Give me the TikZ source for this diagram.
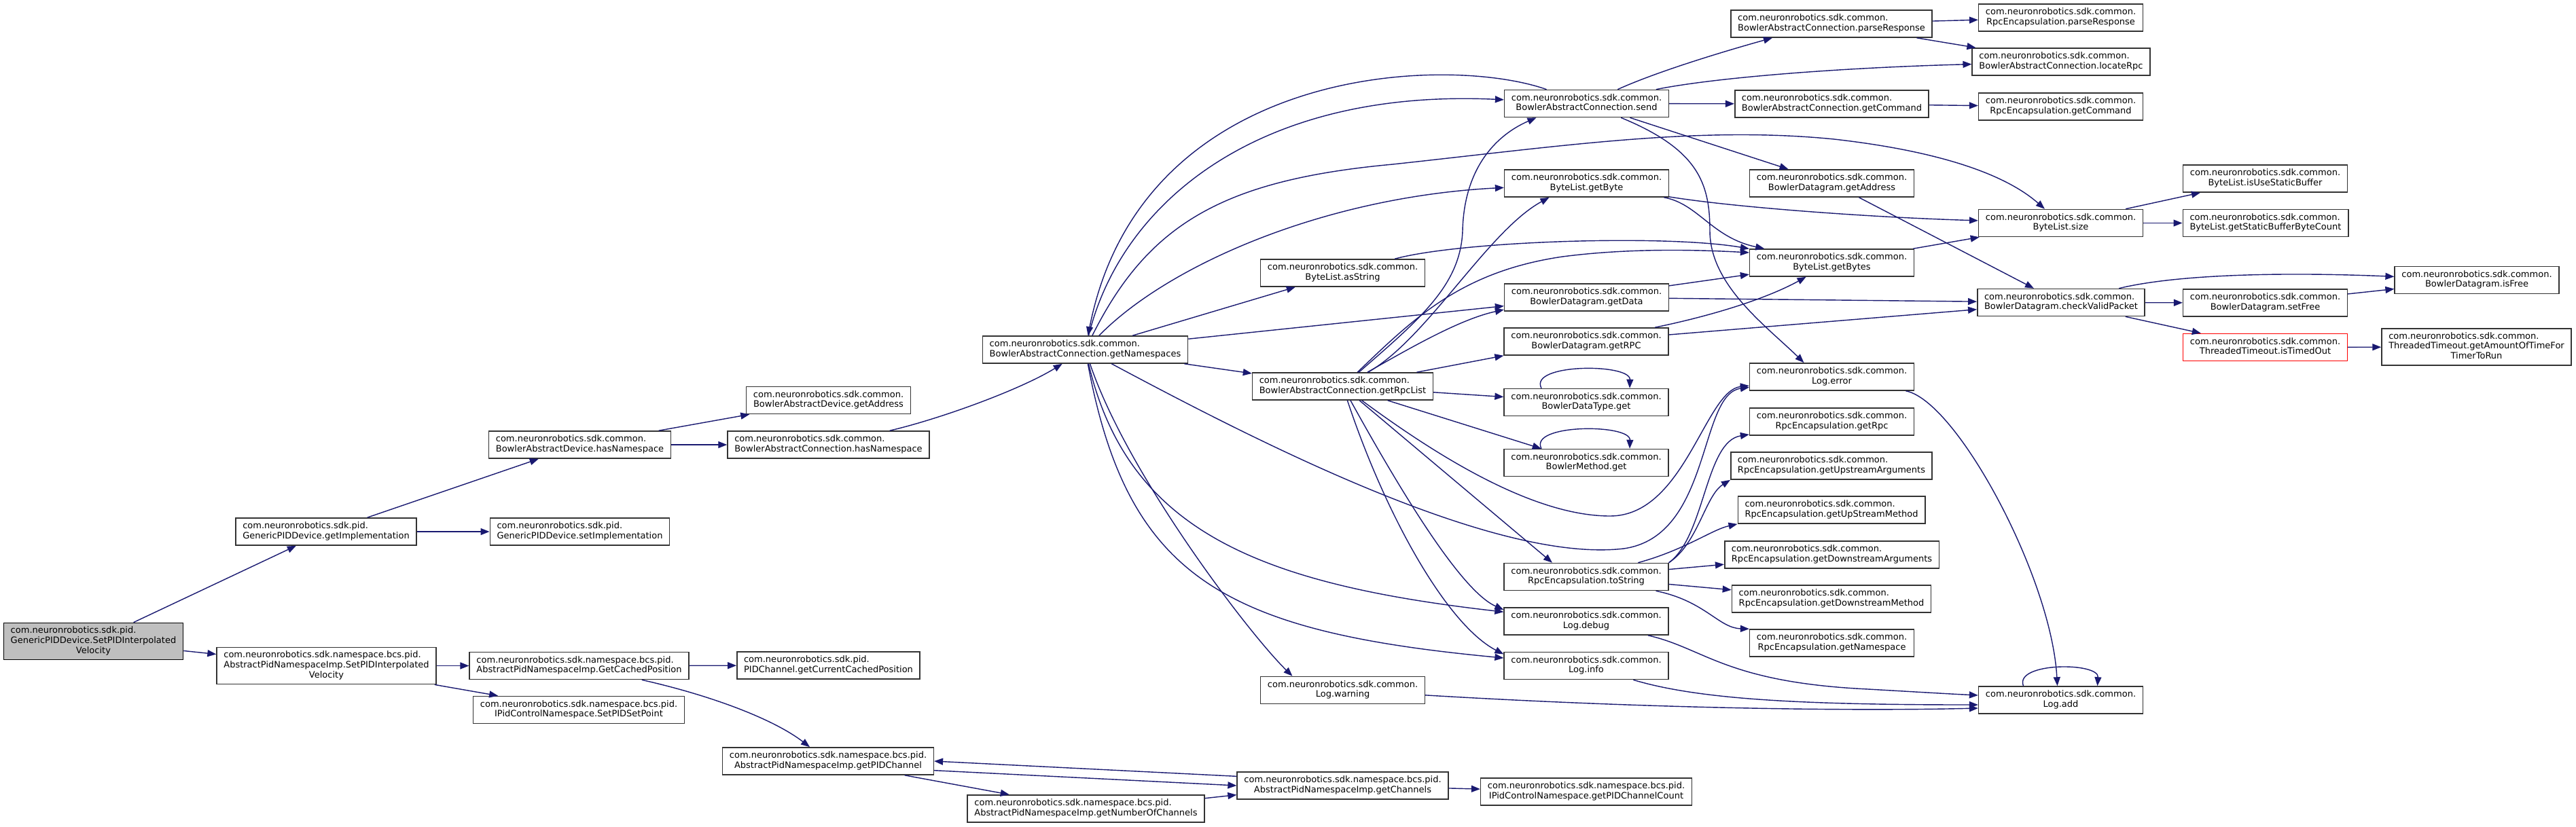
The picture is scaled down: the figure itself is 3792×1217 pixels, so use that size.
\documentclass[tikz,border=0pt]{standalone}
\usepackage{fontspec}
\newfontfamily\dxfont{DejaVu Sans}
\usepackage{tikz}
\usetikzlibrary{arrows.meta}
\definecolor{dxedge}{HTML}{191970}
\definecolor{dxgray}{HTML}{BFBFBF}
\newcommand{\fnlabel}[2]{\begin{tabular}{@{}l@{}}#1\\\multicolumn{1}{@{}c@{}}{#2}\end{tabular}}
\newcommand{\nrc}[1]{\fnlabel{com.neuronrobotics.sdk.common.}{#1}}
\newcommand{\nrp}[1]{\fnlabel{com.neuronrobotics.sdk.pid.}{#1}}
\newcommand{\nrb}[1]{\fnlabel{com.neuronrobotics.sdk.namespace.bcs.pid.}{#1}}

\begin{document}
\begin{tikzpicture}[x=0.01cm,y=-0.01cm,>={Triangle[length=0.13cm,width=0.1cm]}, every node/.style={font=\dxfont\fontsize{3.7}{4.2}\selectfont}]
\tikzstyle{fnbox}=[draw=black!80,line width=0.45pt,fill=white,inner xsep=2.9pt,inner ysep=1.4pt,minimum height=0.4cm]
\tikzstyle{call}=[->,draw=dxedge,line width=0.4pt]
\useasboundingbox (0,0) rectangle (3792,1217);
\node[fnbox,fill=dxgray,draw=black] (main) at (137.5,944.5) {\fnlabel{com.neuronrobotics.sdk.pid.\\GenericPIDDevice.SetPIDInterpolated}{Velocity}};
\node[fnbox] (getimpl) at (480,783) {\nrp{GenericPIDDevice.getImplementation}};
\node[fnbox] (setimpl) at (853.5,783) {\nrp{GenericPIDDevice.setImplementation}};
\node[fnbox] (devhasns) at (853.5,655) {\nrc{BowlerAbstractDevice.hasNamespace}};
\node[fnbox] (devaddr) at (1219.5,589.5) {\nrc{BowlerAbstractDevice.getAddress}};
\node[fnbox] (connhasns) at (1219.5,655) {\nrc{BowlerAbstractConnection.hasNamespace}};
\node[fnbox] (setpidiv) at (480.5,980.5) {\fnlabel{com.neuronrobotics.sdk.namespace.bcs.pid.\\AbstractPidNamespaceImp.SetPIDInterpolated}{Velocity}};
\node[fnbox] (cachedpos) at (852.5,980.5) {\nrb{AbstractPidNamespaceImp.GetCachedPosition}};
\node[fnbox] (setpoint) at (852,1045.5) {\nrb{IPidControlNamespace.SetPIDSetPoint}};
\node[fnbox] (curcached) at (1219.5,980) {\nrp{PIDChannel.getCurrentCachedPosition}};
\node[fnbox] (getpidch) at (1219,1121) {\nrb{AbstractPidNamespaceImp.getPIDChannel}};
\node[fnbox] (numch) at (1598.5,1191) {\nrb{AbstractPidNamespaceImp.getNumberOfChannels}};
\node[fnbox] (getch) at (1976.5,1157) {\nrb{AbstractPidNamespaceImp.getChannels}};
\node[fnbox] (chcount) at (2335,1166) {\nrb{IPidControlNamespace.getPIDChannelCount}};
\node[fnbox] (getns) at (1597.5,515) {\nrc{BowlerAbstractConnection.getNamespaces}};
\node[fnbox] (send) at (2335.5,152.5) {\nrc{BowlerAbstractConnection.send}};
\node[fnbox] (parseconn) at (2696,35) {\nrc{BowlerAbstractConnection.parseResponse}};
\node[fnbox] (parserpc) at (3033.5,26) {\nrc{RpcEncapsulation.parseResponse}};
\node[fnbox] (locaterpc) at (3034,91) {\nrc{BowlerAbstractConnection.locateRpc}};
\node[fnbox] (cmdconn) at (2696.5,153) {\nrc{BowlerAbstractConnection.getCommand}};
\node[fnbox] (cmdrpc) at (3033.5,157) {\nrc{RpcEncapsulation.getCommand}};
\node[fnbox] (getbyte) at (2335.5,270) {\nrc{ByteList.getByte}};
\node[fnbox] (dgaddr) at (2696.5,270) {\nrc{BowlerDatagram.getAddress}};
\node[fnbox] (asstring) at (1976.5,402) {\nrc{ByteList.asString}};
\node[fnbox] (getbytes) at (2696.5,387) {\nrc{ByteList.getBytes}};
\node[fnbox] (size) at (3033.5,328.5) {\nrc{ByteList.size}};
\node[fnbox] (staticbuf) at (3334.5,263) {\nrc{ByteList.isUseStaticBuffer}};
\node[fnbox] (staticcount) at (3335,328.5) {\nrc{ByteList.getStaticBufferByteCount}};
\node[fnbox] (getdata) at (2335.5,438) {\nrc{BowlerDatagram.getData}};
\node[fnbox] (checkvalid) at (3034,445.5) {\nrc{BowlerDatagram.checkValidPacket}};
\node[fnbox] (setfree) at (3334.5,446) {\nrc{BowlerDatagram.setFree}};
\node[fnbox] (isfree) at (3646,412.5) {\nrc{BowlerDatagram.isFree}};
\node[fnbox,draw=red] (timedout) at (3334.5,511.5) {\nrc{ThreadedTimeout.isTimedOut}};
\node[fnbox] (amount) at (3645.5,511) {\fnlabel{com.neuronrobotics.sdk.common.\\ThreadedTimeout.getAmountOfTimeFor}{TimerToRun}};
\node[fnbox] (getrpc) at (2335,503) {\nrc{BowlerDatagram.getRPC}};
\node[fnbox] (rpclist) at (1976.5,569) {\nrc{BowlerAbstractConnection.getRpcList}};
\node[fnbox] (datatype) at (2335,592.5) {\nrc{BowlerDataType.get}};
\node[fnbox] (method) at (2335,681.5) {\nrc{BowlerMethod.get}};
\node[fnbox] (logerror) at (2696.5,555) {\nrc{Log.error}};
\node[fnbox] (encrpc) at (2696.5,621) {\nrc{RpcEncapsulation.getRpc}};
\node[fnbox] (upargs) at (2696,686) {\nrc{RpcEncapsulation.getUpstreamArguments}};
\node[fnbox] (upmethod) at (2696,751) {\nrc{RpcEncapsulation.getUpStreamMethod}};
\node[fnbox] (downargs) at (2696.5,817) {\nrc{RpcEncapsulation.getDownstreamArguments}};
\node[fnbox] (tostr) at (2335,849.5) {\nrc{RpcEncapsulation.toString}};
\node[fnbox] (downmethod) at (2696,882) {\nrc{RpcEncapsulation.getDownstreamMethod}};
\node[fnbox] (logdebug) at (2335,915) {\nrc{Log.debug}};
\node[fnbox] (getnsp) at (2696.5,947) {\nrc{RpcEncapsulation.getNamespace}};
\node[fnbox] (loginfo) at (2335,980.5) {\nrc{Log.info}};
\node[fnbox] (logwarn) at (1976.5,1016.5) {\nrc{Log.warning}};
\node[fnbox] (logadd) at (3033.5,1031) {\nrc{Log.add}};
\draw[call] (main) -- (getimpl);
\draw[call] (main) -- (setpidiv);
\draw[call] (getimpl) -- (devhasns);
\draw[call] (getimpl) -- (setimpl);
\draw[call] (devhasns) -- (devaddr);
\draw[call] (devhasns) -- (connhasns);
\draw[call] (connhasns) .. controls (1380,618) and (1500,575) .. (getns);
\draw[call] (setpidiv) -- (cachedpos);
\draw[call] (setpidiv) -- (setpoint);
\draw[call] (cachedpos) -- (curcached);
\draw[call] (cachedpos) .. controls (1050,1025) and (1140,1060) .. (getpidch);
\draw[call] (getpidch.-5) -- (getch.west);
\draw[call] (getch.175) -- (getpidch.east);
\draw[call] (getpidch) -- (numch);
\draw[call] (numch.5) -- (getch.185);
\draw[call] (getch) -- (chcount);
\draw[call] (getns) .. controls (1650,300) and (1850,130) .. (send);
\draw[call] (send) .. controls (2130,80) and (1680,95) .. (getns);
\draw[call] (getns) .. controls (1690,330) and (1800,265) .. (2050,242) .. controls (2300,215) and (2500,185) .. (2700,205) .. controls (2850,222) and (2950,255) .. (size);
\draw[call] (getns) .. controls (1720,390) and (1950,290) .. (getbyte);
\draw[call] (getns) -- (asstring);
\draw[call] (getns) -- (getdata);
\draw[call] (getns) -- (rpclist);
\draw[call] (getns) .. controls (1850,650) and (2200,830) .. (2390,808) .. controls (2520,790) and (2500,580) .. (logerror);
\draw[call] (getns) .. controls (1660,780) and (1850,860) .. (logdebug);
\draw[call] (getns) .. controls (1660,850) and (1800,930) .. (loginfo);
\draw[call] (getns) .. controls (1660,700) and (1840,935) .. ([xshift=-0.74cm]logwarn.north);
\draw[call] (rpclist) .. controls (2090,470) and (2150,420) .. (2153,340) .. controls (2155,250) and (2200,200) .. ([xshift=-0.74cm]send.south);
\draw[call] (rpclist) .. controls (2100,500) and (2190,340) .. ([xshift=-0.55cm]getbyte.south);
\draw[call] (rpclist) .. controls (2080,470) and (2150,400) .. (2300,378) .. controls (2400,365) and (2500,368) .. ([yshift=0.15cm]getbytes.west);
\draw[call] (rpclist) .. controls (2080,510) and (2150,470) .. ([yshift=-0.18cm]getdata.west);
\draw[call] (rpclist) -- (getrpc.south west);
\draw[call] (rpclist) -- (datatype);
\draw[call] (rpclist) -- (method);
\draw[call] (rpclist) -- ([xshift=-0.5cm]tostr.north);
\draw[call] (rpclist) .. controls (2060,720) and (2150,870) .. ([yshift=0.17cm]logdebug.west);
\draw[call] (rpclist) .. controls (2040,760) and (2130,920) .. ([yshift=0.17cm]loginfo.west);
\draw[call] (rpclist) .. controls (2100,660) and (2250,760) .. (2370,760) .. controls (2480,760) and (2510,575) .. (logerror);
\draw[call] ([xshift=-0.66cm]datatype.north) .. controls (2250,535) and (2400,535) .. ([xshift=0.64cm]datatype.north);
\draw[call] ([xshift=-0.66cm]method.north) .. controls (2250,624) and (2400,624) .. ([xshift=0.64cm]method.north);
\draw[call] (send) .. controls (2440,105) and (2540,75) .. ([xshift=-0.87cm]parseconn.south);
\draw[call] (send) .. controls (2520,115) and (2700,100) .. (locaterpc);
\draw[call] (send) -- (cmdconn);
\draw[call] (send) -- (dgaddr);
\draw[call] (send) .. controls (2500,220) and (2517,270) .. (2517,340) .. controls (2517,420) and (2600,480) .. ([xshift=-0.41cm]logerror.north);
\draw[call] (parseconn) -- (parserpc);
\draw[call] (parseconn) -- (locaterpc);
\draw[call] (cmdconn) -- (cmdrpc);
\draw[call] (getbyte) .. controls (2500,300) and (2520,350) .. (getbytes);
\draw[call] (getbyte) .. controls (2550,305) and (2750,320) .. (size);
\draw[call] (getbytes) -- (size);
\draw[call] (size) -- (staticbuf);
\draw[call] (size) -- (staticcount);
\draw[call] (asstring) .. controls (2150,355) and (2450,345) .. (getbytes);
\draw[call] (getdata) -- (getbytes);
\draw[call] (getdata) -- (checkvalid);
\draw[call] (getrpc) .. controls (2520,465) and (2600,440) .. (getbytes);
\draw[call] (getrpc) -- (checkvalid);
\draw[call] (dgaddr) -- (checkvalid);
\draw[call] (checkvalid) .. controls (3200,405) and (3350,400) .. (isfree);
\draw[call] (checkvalid) -- (setfree);
\draw[call] (checkvalid) -- (timedout);
\draw[call] (setfree) -- (isfree);
\draw[call] (timedout) -- (amount);
\draw[call] (tostr.north east) .. controls (2510,790) and (2510,650) .. (encrpc);
\draw[call] (tostr.north east) .. controls (2500,800) and (2510,730) .. (upargs.south west);
\draw[call] (tostr) .. controls (2480,810) and (2520,780) .. (upmethod.south west);
\draw[call] (tostr) -- (downargs);
\draw[call] (tostr) -- (downmethod);
\draw[call] (tostr) .. controls (2510,885) and (2530,925) .. (getnsp.north west);
\draw[call] (logerror) .. controls (2880,590) and (3020,850) .. ([xshift=-0.05cm]logadd.north);
\draw[call] (logdebug) .. controls (2510,955) and (2540,1005) .. (2750,1015) .. controls (2820,1019) and (2870,1022) .. ([yshift=0.07cm]logadd.west);
\draw[call] (loginfo) .. controls (2500,1030) and (2650,1038) .. ([yshift=-0.07cm]logadd.west);
\draw[call] (logwarn) .. controls (2400,1042) and (2700,1048) .. ([yshift=-0.12cm]logadd.west);
\draw[call] ([xshift=-0.55cm]logadd.north) .. controls (2965,975) and (3090,975) .. ([xshift=0.54cm]logadd.north);
\end{tikzpicture}
\end{document}
